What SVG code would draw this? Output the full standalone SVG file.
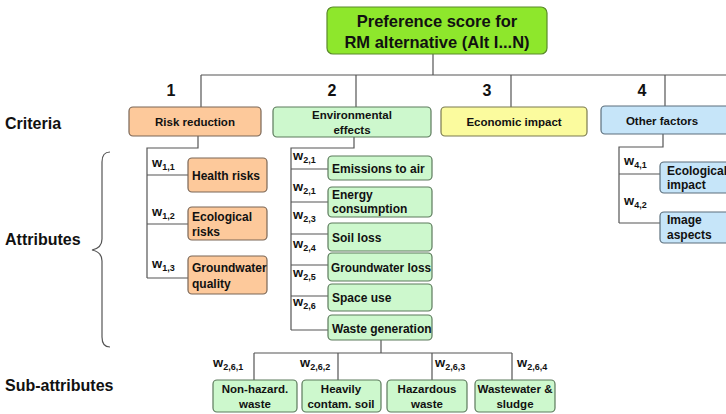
<svg xmlns="http://www.w3.org/2000/svg" width="726" height="414" viewBox="0 0 726 414">
  <style>
    text { font-family: "Liberation Sans", Arial, sans-serif; font-weight: bold; fill: #111; }
    .title { font-size: 16.5px; text-anchor: middle; }
    .num { font-size: 16px; text-anchor: middle; }
    .level { font-size: 16px; }
    .crit { font-size: 11.5px; text-anchor: middle; }
    .attr { font-size: 12px; }
    .sub { font-size: 11.5px; text-anchor: middle; }
    .w { font-size: 13px; }
    .ix { font-size: 9px; }
    .box { stroke-width: 1.2; }
    .top { fill: #8ee72c; stroke: #5a8a2a; }
    .orange { fill: #fdc99b; stroke: #7a6656; }
    .green { fill: #cdf8cd; stroke: #5c7a5c; }
    .yellow { fill: #fbfb9e; stroke: #7a7a50; }
    .blue { fill: #c6e5f9; stroke: #5c6f7c; }
    .wire { fill: none; stroke: #555; stroke-width: 1.2; }
  </style>

  <!-- level captions -->
  <g id="levels">
    <text class="level" x="5" y="129">Criteria</text>
    <text class="level" x="5" y="245">Attributes</text>
    <text class="level" x="5" y="391">Sub-attributes</text>
    <path class="wire" d="M110,152 Q102,152 102,162 L102,239 Q102,248 92,250 Q102,252 102,261 L102,337 Q102,347 110,347"/>
  </g>

  <!-- connectors -->
  <g id="connectors">
    <path class="wire" d="M433,54 V75 M201,75 H728 M201,75 V107 M356,75 V107 M511,75 V107 M665,75 V106"/>
    <!-- criterion 1 -->
    <path class="wire" d="M198,136 V148 H147 V278 M147,175 H188 M147,224 H188 M147,278 H188"/>
    <!-- criterion 2 -->
    <path class="wire" d="M354,137 V148 H291 V330 M291,169 H328 M291,202 H328 M291,234 H328 M291,265 H328 M291,296 H328 M291,330 H328"/>
    <!-- criterion 4 -->
    <path class="wire" d="M663,134 V147 H619 V223 M619,174 H660 M619,223 H660"/>
    <!-- waste generation sub-attributes -->
    <path class="wire" d="M381,340 V353 M254,353 H512 M254,353 V380 M338,353 V380 M432,353 V380 M512,353 V380"/>
  </g>

  <!-- weights -->
  <g id="weights">
    <text class="w" x="152" y="167">w<tspan class="ix" dy="3">1,1</tspan></text>
    <text class="w" x="152" y="216">w<tspan class="ix" dy="3">1,2</tspan></text>
    <text class="w" x="152" y="268">w<tspan class="ix" dy="3">1,3</tspan></text>
    <text class="w" x="293" y="160">w<tspan class="ix" dy="3">2,1</tspan></text>
    <text class="w" x="293" y="191">w<tspan class="ix" dy="3">2,1</tspan></text>
    <text class="w" x="293" y="219">w<tspan class="ix" dy="3">2,3</tspan></text>
    <text class="w" x="293" y="248">w<tspan class="ix" dy="3">2,4</tspan></text>
    <text class="w" x="293" y="277">w<tspan class="ix" dy="3">2,5</tspan></text>
    <text class="w" x="293" y="306">w<tspan class="ix" dy="3">2,6</tspan></text>
    <text class="w" x="624" y="165">w<tspan class="ix" dy="3">4,1</tspan></text>
    <text class="w" x="624" y="205">w<tspan class="ix" dy="3">4,2</tspan></text>
    <text class="w" x="213" y="367">w<tspan class="ix" dy="3">2,6,1</tspan></text>
    <text class="w" x="300" y="367">w<tspan class="ix" dy="3">2,6,2</tspan></text>
    <text class="w" x="435" y="367">w<tspan class="ix" dy="3">2,6,3</tspan></text>
    <text class="w" x="517" y="367">w<tspan class="ix" dy="3">2,6,4</tspan></text>
  </g>

  <!-- goal -->
  <g id="goal">
    <rect class="box top" x="327" y="7" width="220" height="47" rx="6"/>
    <text class="title" x="437" y="27">Preference score for</text>
    <text class="title" x="437" y="48">RM alternative (Alt I...N)</text>
  </g>

  <!-- criterion numbers -->
  <g id="numbers">
    <text class="num" x="171" y="96">1</text>
    <text class="num" x="332" y="96">2</text>
    <text class="num" x="487" y="96">3</text>
    <text class="num" x="642" y="96">4</text>
  </g>

  <!-- criteria -->
  <g id="crit-risk">
    <rect class="box orange" x="129" y="107" width="132" height="29" rx="4"/>
    <text class="crit" x="195" y="126">Risk reduction</text>
  </g>
  <g id="crit-env">
    <rect class="box green" x="273" y="107" width="158" height="30" rx="4"/>
    <text class="crit" x="352" y="119">Environmental</text>
    <text class="crit" x="352" y="134">effects</text>
  </g>
  <g id="crit-econ">
    <rect class="box yellow" x="441" y="107" width="146" height="29" rx="4"/>
    <text class="crit" x="514" y="126">Economic impact</text>
  </g>
  <g id="crit-other">
    <rect class="box blue" x="601" y="106" width="130" height="28" rx="4"/>
    <text class="crit" x="662" y="125">Other factors</text>
  </g>

  <!-- attributes of risk reduction -->
  <g id="attr-health">
    <rect class="box orange" x="188" y="158" width="79" height="34" rx="4"/>
    <text class="attr" x="192" y="180">Health risks</text>
  </g>
  <g id="attr-eco-risk">
    <rect class="box orange" x="188" y="207" width="79" height="33" rx="4"/>
    <text class="attr" x="192" y="221">Ecological</text>
    <text class="attr" x="192" y="236">risks</text>
  </g>
  <g id="attr-groundwater-quality">
    <rect class="box orange" x="188" y="256" width="79" height="38" rx="4"/>
    <text class="attr" x="192" y="272">Groundwater</text>
    <text class="attr" x="192" y="288">quality</text>
  </g>

  <!-- attributes of environmental effects -->
  <g id="attr-emissions">
    <rect class="box green" x="328" y="156" width="104" height="24" rx="4"/>
    <text class="attr" x="332" y="173">Emissions to air</text>
  </g>
  <g id="attr-energy">
    <rect class="box green" x="328" y="187" width="104" height="30" rx="4"/>
    <text class="attr" x="332" y="199">Energy</text>
    <text class="attr" x="332" y="213">consumption</text>
  </g>
  <g id="attr-soil">
    <rect class="box green" x="328" y="223" width="104" height="28" rx="4"/>
    <text class="attr" x="332" y="242">Soil loss</text>
  </g>
  <g id="attr-groundwater-loss">
    <rect class="box green" x="328" y="253" width="104" height="28" rx="4"/>
    <text class="attr" x="331" y="272" textLength="100" lengthAdjust="spacingAndGlyphs">Groundwater loss</text>
  </g>
  <g id="attr-space">
    <rect class="box green" x="328" y="284" width="104" height="27" rx="4"/>
    <text class="attr" x="332" y="302">Space use</text>
  </g>
  <g id="attr-waste">
    <rect class="box green" x="328" y="315" width="104" height="25" rx="4"/>
    <text class="attr" x="332" y="333">Waste generation</text>
  </g>

  <!-- attributes of other factors -->
  <g id="attr-eco-impact">
    <rect class="box blue" x="660" y="162" width="80" height="31" rx="4"/>
    <text class="attr" x="667" y="175">Ecological</text>
    <text class="attr" x="667" y="189">impact</text>
  </g>
  <g id="attr-image">
    <rect class="box blue" x="660" y="212" width="80" height="31" rx="4"/>
    <text class="attr" x="667" y="224">Image</text>
    <text class="attr" x="667" y="239">aspects</text>
  </g>

  <!-- sub-attributes of waste generation -->
  <g id="sub-nonhazard">
    <rect class="box green" x="213" y="380" width="84" height="32" rx="4"/>
    <text class="sub" x="255" y="393">Non-hazard.</text>
    <text class="sub" x="255" y="408">waste</text>
  </g>
  <g id="sub-contam">
    <rect class="box green" x="302" y="380" width="79" height="32" rx="4"/>
    <text class="sub" x="341" y="393">Heavily</text>
    <text class="sub" x="341" y="408">contam. soil</text>
  </g>
  <g id="sub-hazardous">
    <rect class="box green" x="387" y="380" width="80" height="32" rx="4"/>
    <text class="sub" x="427" y="393">Hazardous</text>
    <text class="sub" x="427" y="408">waste</text>
  </g>
  <g id="sub-wastewater">
    <rect class="box green" x="475" y="380" width="80" height="32" rx="4"/>
    <text class="sub" x="515" y="393">Wastewater &amp;</text>
    <text class="sub" x="515" y="408">sludge</text>
  </g>
</svg>
